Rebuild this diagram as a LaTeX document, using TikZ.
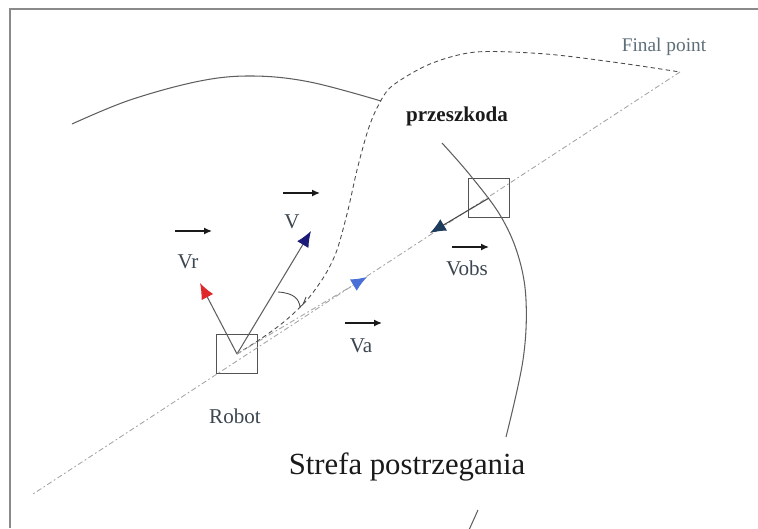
\documentclass[tikz,border=0pt]{standalone}
\usepackage{fontspec}
\setmainfont{Liberation Serif}
\usepackage{xcolor}
\definecolor{frame}{HTML}{8A8A8A}
\definecolor{ink}{HTML}{1A1A1A}
\definecolor{labelgray}{HTML}{3C4650}
\definecolor{muted}{HTML}{5E6E78}
\definecolor{vnavy}{HTML}{1C1C78}
\definecolor{vred}{HTML}{E0282A}
\definecolor{vblue}{HTML}{4A70D8}
\definecolor{vobsc}{HTML}{1E3C5C}
\usepackage{tikz}
\usetikzlibrary{arrows.meta,positioning}

\begin{document}
\begin{tikzpicture}[x=0.02cm,y=-0.02cm,
  box/.style={draw=ink!75,line width=0.6pt,minimum width=0.82cm,minimum height=0.78cm,inner sep=0pt},
  vec/.style={line width=0.6pt,ink!70},
  ovec/.style={-{Latex[length=4.5pt,width=4pt]},line width=0.8pt,ink},
  track/.style={gray!70,line width=0.5pt,dash pattern=on 3pt off 1.5pt on 1pt off 1.5pt},
  route/.style={gray!60!black,line width=0.5pt,dash pattern=on 2.5pt off 1.8pt},
  lbl/.style={font=\fontsize{12}{14}\selectfont,text=labelgray,inner sep=1pt}]
  \useasboundingbox (0,0) rectangle (758,528);
  % --- cadre ---
  \draw[frame,line width=1.5pt] (10,528) |- (758,9);

  % --- robot, przeszkoda, punkt koncowy ---
  \node[box] (robot) at (237,354) {};
  \node[box] (obst) at (489,198) {};
  \coordinate (fin) at (680,72);
  \coordinate (sw) at (33,494);

  % --- strefa postrzegania (luki) ---
  \draw[ink!70,line width=0.6pt] plot[smooth,tension=0.6] coordinates
    {(72,124) (130,100) (200,81) (253,76) (310,82) (381,101)};
  \draw[ink!70,line width=0.6pt] plot[smooth,tension=0.6] coordinates
    {(442,143) (470,175) (500,215) (518,255) (526,300) (523,360) (506,437)};
  \draw[ink!70,line width=0.6pt] (478,510) -- (469,530);

  % --- trajektoria i prosta do celu ---
  \draw[track] (fin) -- (sw);
  \draw[route] plot[smooth,tension=0.5] coordinates
    {(robot.center) (262,338) (285,321) (307,300) (325,275) (337,250) (348,210)
     (357,170) (368,130) (378,106) (392,86) (430,64) (476,52) (546,54) (620,63) (fin)};

  % --- wektory predkosci ---
  \coordinate (vtip) at (311,231);
  \coordinate (vrtip) at (200,283);
  \coordinate (vatip) at (367,277);
  \coordinate (vobstip) at (430,233);
  \draw[vec,-{Latex[length=9pt,width=7.5pt,color=vnavy]}] (robot.center) -- (vtip);
  \draw[vec,-{Latex[length=9pt,width=7.5pt,color=vred]}] (robot.center) -- (vrtip);
  \draw[track,-{Latex[length=9pt,width=7.5pt,color=vblue]}] (robot.center) -- (vatip);
  \draw[vec,ink!80,-{Latex[length=9pt,width=7.5pt,color=vobsc]}] (obst.center) -- (vobstip);
  % kat
  \draw[ink!80,line width=0.5pt] (278,292) .. controls (294,293) and (299,299) .. (300,307)
    .. controls (303,305) .. (306,297);

  % --- etykiety ---
  \node[lbl] (lvr) at (188,262) {Vr};
  \node[lbl] (lv) at (292,222) {V};
  \node[lbl] (lva) at (361,346) {Va};
  \node[lbl] (lvobs) at (467,268) {Vobs};
  \foreach \x/\y in {175/231, 283/193, 345/323, 452/247}
    \draw[ovec] (\x,\y) -- ++(37,0);
  \node[lbl] (lrobot) at (235,416) {Robot};
  \node[font=\fontsize{12}{14}\selectfont\bfseries,text=ink] (lobst) at (457,116) {przeszkoda};
  \node[font=\fontsize{11}{13}\selectfont,text=muted] (lfin) at (664,47) {Final point};
  \node[font=\fontsize{17.5}{20}\selectfont,text=ink] (lzone) at (407,467) {Strefa postrzegania};
\end{tikzpicture}
\end{document}
